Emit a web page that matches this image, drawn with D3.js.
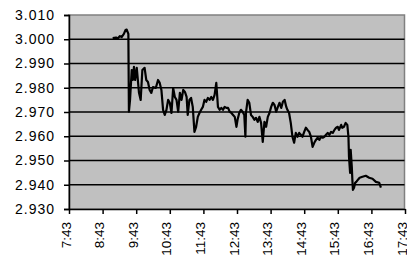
<html>
<head>
  <script src="https://cdn.jsdelivr.net/npm/d3@7"></script>
  <style>
    body { margin: 0; background: #fff; }
    text { font-family: "Liberation Sans", Arial, sans-serif; }
  </style>
</head>
<body>
  <div id="content"></div>
  <script>
    // tick labels
    timeTicks = ["7:43", "8:43", "9:43", "10:43", "11:43", "12:43", "13:43", "14:43", "15:43", "16:43", "17:43"]
    valueTicks = [2.930, 2.940, 2.950, 2.960, 2.970, 2.980, 2.990, 3.000, 3.010]

    // series
    times = ["9:01", "9:07", "9:10", "9:14", "9:17", "9:21", "9:24", "9:26", "9:29", "9:30",
      "9:32", "9:35", "9:37", "9:39", "9:41", "9:44", "9:48", "9:51", "9:54", "9:58",
      "10:01", "10:04", "10:07", "10:10", "10:13", "10:18", "10:22", "10:25", "10:28", "10:31",
      "10:34", "10:37", "10:40", "10:43", "10:46", "10:49", "10:52", "10:55", "10:58", "11:01",
      "11:04", "11:07", "11:10", "11:13", "11:15", "11:18", "11:21", "11:24", "11:27", "11:30",
      "11:33", "11:36", "11:39", "11:42", "11:45", "11:48", "11:51", "11:54", "11:57", "12:00",
      "12:03", "12:06", "12:09", "12:12", "12:15", "12:18", "12:21", "12:24", "12:27", "12:30",
      "12:33", "12:36", "12:39", "12:42", "12:44", "12:47", "12:50", "12:53", "12:56", "12:58",
      "12:59", "13:02", "13:05", "13:08", "13:11", "13:14", "13:17", "13:20", "13:23", "13:26",
      "13:29", "13:32", "13:35", "13:38", "13:41", "13:44", "13:47", "13:50", "13:53", "13:56",
      "13:59", "14:02", "14:05", "14:08", "14:11", "14:13", "14:16", "14:19", "14:22", "14:25",
      "14:28", "14:31", "14:34", "14:37", "14:40", "14:43", "14:46", "14:49", "14:52", "14:55",
      "14:58", "15:01", "15:04", "15:07", "15:10", "15:13", "15:16", "15:19", "15:22", "15:25",
      "15:28", "15:31", "15:34", "15:37", "15:40", "15:43", "15:45", "15:49", "15:51", "15:54",
      "15:57", "16:00", "16:02", "16:03", "16:05", "16:06", "16:08", "16:09", "16:10", "16:12",
      "16:14", "16:16", "16:19", "16:22", "16:27", "16:33", "16:39", "16:45", "16:51", "16:57",
      "17:00"]
    prices = [3.0005, 3.0007, 3.0003, 3.0013, 3.0009, 3.0022, 3.0038, 3.0040, 3.0022, 2.9701,
      2.9750, 2.9873, 2.9832, 2.9886, 2.9832, 2.9882, 2.9779, 2.9750, 2.9873, 2.9882,
      2.9832, 2.9824, 2.9791, 2.9779, 2.9803, 2.9799, 2.9832, 2.9820, 2.9791, 2.9709,
      2.9688, 2.9709, 2.9750, 2.9738, 2.9696, 2.9799, 2.9762, 2.9750, 2.9701, 2.9779,
      2.9750, 2.9791, 2.9783, 2.9762, 2.9688, 2.9750, 2.9758, 2.9721, 2.9618, 2.9639,
      2.9680, 2.9696, 2.9709, 2.9721, 2.9750, 2.9742, 2.9758, 2.9750, 2.9762, 2.9750,
      2.9771, 2.9820, 2.9721, 2.9709, 2.9717, 2.9709, 2.9721, 2.9717, 2.9717, 2.9701,
      2.9696, 2.9688, 2.9680, 2.9639, 2.9668, 2.9696, 2.9709, 2.9701, 2.9688, 2.9598,
      2.9696, 2.9750, 2.9738, 2.9688, 2.9680, 2.9668, 2.9676, 2.9659, 2.9680, 2.9655,
      2.9577, 2.9659, 2.9639, 2.9680, 2.9696, 2.9721, 2.9738, 2.9729, 2.9701, 2.9721,
      2.9738, 2.9717, 2.9742, 2.9750, 2.9721, 2.9709, 2.9696, 2.9655, 2.9598, 2.9573,
      2.9614, 2.9598, 2.9614, 2.9606, 2.9598, 2.9618, 2.9635, 2.9626, 2.9618, 2.9598,
      2.9556, 2.9573, 2.9585, 2.9594, 2.9585, 2.9598, 2.9594, 2.9598, 2.9606, 2.9614,
      2.9606, 2.9618, 2.9614, 2.9626, 2.9635, 2.9639, 2.9626, 2.9647, 2.9635, 2.9639,
      2.9655, 2.9647, 2.9598, 2.9515, 2.9449, 2.9544, 2.9474, 2.9421, 2.9379, 2.9388,
      2.9408, 2.9412, 2.9421, 2.9429, 2.9433, 2.9437, 2.9429, 2.9425, 2.9412, 2.9408,
      2.9388]

    width = 407
    height = 256
    margin = {top: 15, right: 2, bottom: 47, left: 69}

    parseTime = d3.timeParse("%H:%M")
    formatTime = d3.timeFormat("%-H:%M")

    data = times.map((t, i) => ({t: parseTime(t), v: prices[i]}))

    x = d3.scaleTime()
      .domain([parseTime(timeTicks[0]), parseTime(timeTicks[timeTicks.length - 1])])
      .range([margin.left, width - margin.right])

    y = d3.scaleLinear()
      .domain([valueTicks[0], valueTicks[valueTicks.length - 1]])
      .range([height - margin.bottom, margin.top])

    const svg = d3.select("#content").append("svg")
      .attr("width", width)
      .attr("height", height)

    // plot area
    svg.append("rect")
      .attr("x", margin.left)
      .attr("y", margin.top)
      .attr("width", width - margin.right - margin.left - 0.5)
      .attr("height", height - margin.bottom - margin.top)
      .attr("fill", "#c0c0c0")
      .attr("stroke", "#808080")
      .attr("stroke-width", 1.5)

    // gridlines
    svg.append("g")
      .selectAll("line")
      .data(valueTicks.slice(1, -1))
      .join("line")
      .attr("x1", margin.left)
      .attr("x2", width - margin.right - 0.5)
      .attr("y1", d => y(d))
      .attr("y2", d => y(d))
      .attr("stroke", "#000")
      .attr("stroke-width", 1.5)

    // y axis
    const yAxis = svg.append("g")
      .attr("transform", `translate(${margin.left},0)`)
      .call(d3.axisLeft(y).tickValues(valueTicks).tickFormat(d3.format(".3f")).tickSize(5).tickPadding(9))
    yAxis.select(".domain").attr("stroke-width", 1.5)
    yAxis.selectAll(".tick line").attr("stroke-width", 1.5)
    yAxis.selectAll("text")
      .attr("font-size", 14)
      .attr("letter-spacing", 1)
      .attr("fill", "#000")

    // x axis
    const xAxis = svg.append("g")
      .attr("transform", `translate(0,${height - margin.bottom})`)
      .call(d3.axisBottom(x).tickValues(timeTicks.map(parseTime)).tickFormat(formatTime).tickSize(5).tickSizeOuter(0))
    xAxis.select(".domain").attr("stroke-width", 1.5)
    xAxis.selectAll(".tick line").attr("stroke-width", 1.5)
    xAxis.selectAll("text")
      .attr("font-size", 13.5)
      .attr("fill", "#000")
      .attr("transform", "rotate(-90)")
      .attr("text-anchor", "end")
      .attr("x", -13)
      .attr("y", 1)
      .attr("dy", 0)

    // price line
    svg.append("path")
      .datum(data)
      .attr("fill", "none")
      .attr("stroke", "#000")
      .attr("stroke-width", 2.2)
      .attr("stroke-linejoin", "round")
      .attr("d", d3.line().x(d => x(d.t)).y(d => y(d.v)))
  </script>
</body>
</html>
